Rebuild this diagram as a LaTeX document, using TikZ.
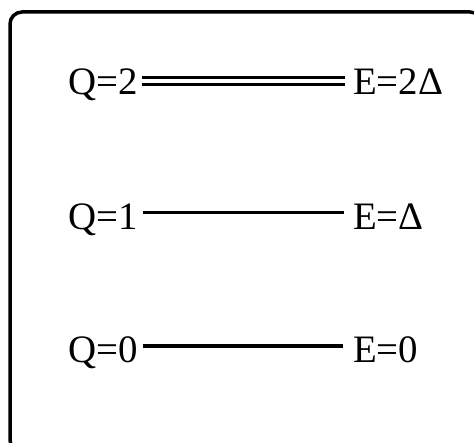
\documentclass[tikz,border=0pt]{standalone}
\usepackage{fontspec}
\setmainfont{Liberation Serif}
\begin{document}
\begin{tikzpicture}[x=1bp,y=1bp,
  lbl/.style={inner sep=0pt, font=\fontsize{39}{47}\selectfont},
  level/.style={line width=3.4bp},
  dlevel/.style={line width=3.2bp, double, double distance=3.8bp}]
\useasboundingbox (0,0) rectangle (474,443);
\draw[line width=3.5bp, rounded corners=12bp] (10,-9) rectangle (482,431);
% Q=2
\node[lbl, anchor=base west] (q2) at (68,348.5) {Q=2};
\node[lbl, anchor=base west] (e2) at (353,348.5) {E=2Δ};
\draw[dlevel] ([shift={(4,13.5)}]q2.base east) -- ([shift={(-8,13.5)}]e2.base west);
% Q=1
\node[lbl, anchor=base west] (q1) at (68,213) {Q=1};
\node[lbl, anchor=base west] (e1) at (353,213) {E=Δ};
\draw[level] ([shift={(5,17.3)}]q1.base east) -- ([shift={(-9,17.3)}]e1.base west);
% Q=0
\node[lbl, anchor=base west] (q0) at (68,80) {Q=0};
\node[lbl, anchor=base west] (e0) at (353,80) {E=0};
\draw[level] ([shift={(5,17)}]q0.base east) -- ([shift={(-10,17)}]e0.base west);
\end{tikzpicture}
\end{document}
